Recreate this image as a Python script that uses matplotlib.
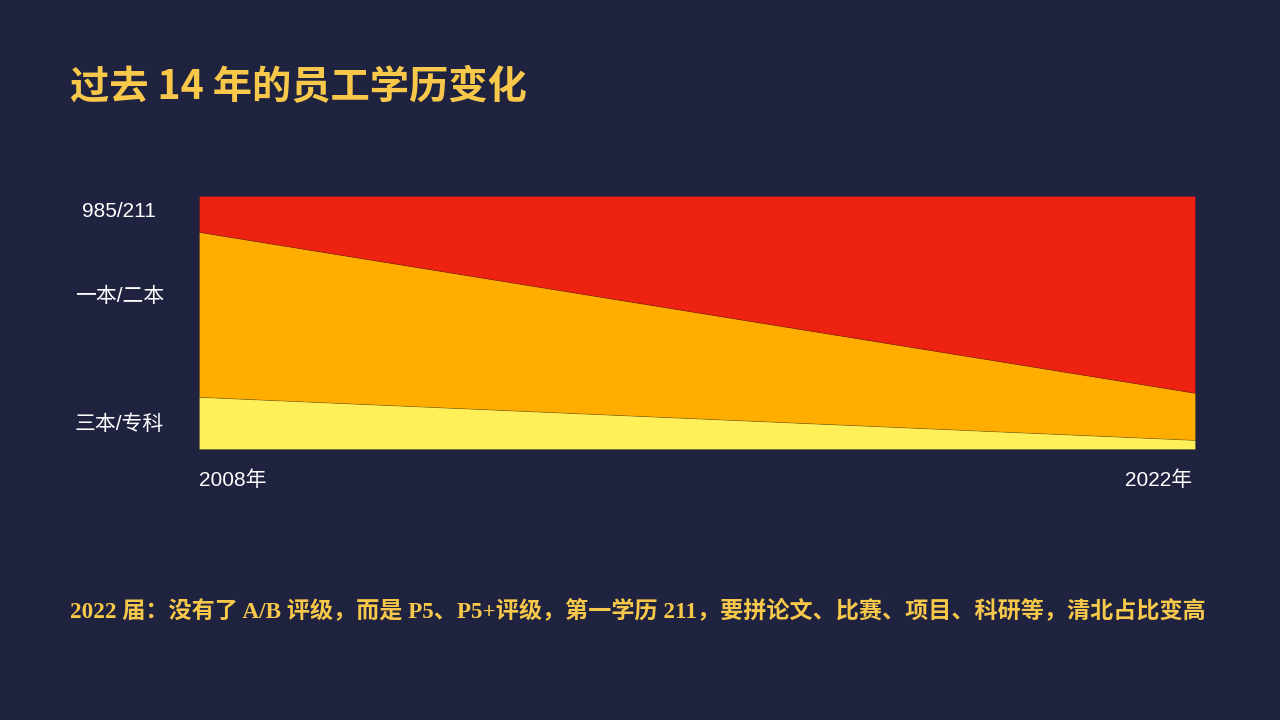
import matplotlib
matplotlib.use('Agg')
import matplotlib.pyplot as plt

plt.rcParams['font.family'] = ['Noto Sans CJK SC', 'DejaVu Sans']

# data (share of staff, %)
years = [2008, 2022]
year_labels = ['2008年', '2022年']
series_names = ['三本/专科', '一本/二本', '985/211']
share_low = [20.6, 3.6]      # 三本/专科
share_mid = [65.2, 18.6]     # 一本/二本
share_top = [14.2, 77.8]     # 985/211

title = '过去 14 年的员工学历变化'
note = '2022 届：没有了 A/B 评级，而是 P5、P5+评级，第一学历 211，要拼论文、比赛、项目、科研等，清北占比变高'

BG = '#1f2340'
GOLD = '#f8c84a'
colors = ['#fff05a', '#ffae00', '#ee2210']
label_font = ['Liberation Sans', 'Noto Sans CJK SC']

fig = plt.figure(figsize=(12.8, 7.2), dpi=100)
fig.patch.set_facecolor(BG)

ax = fig.add_axes([199 / 1280, 1 - 449 / 720, 996 / 1280, 253 / 720])
ax.set_facecolor(BG)
ax.stackplot(years, share_low, share_mid, share_top, colors=colors,
             edgecolor='#00000030', linewidth=0.6)
ax.set_xlim(years[0], years[-1])
ax.set_ylim(0, 100)
ax.axis('off')

# series labels on the left
label_y = [0.099, 0.605, 0.937]
for name, yy in zip(series_names, label_y):
    ax.text(-0.08, yy, name, transform=ax.transAxes, ha='center', va='center',
            color='white', fontsize=15, family=label_font)

# year labels
ax.text(0.0, -0.125, year_labels[0], transform=ax.transAxes, ha='left', va='center',
        color='white', fontsize=15, family=label_font)
ax.text(0.997, -0.125, year_labels[1], transform=ax.transAxes, ha='right', va='center',
        color='white', fontsize=15, family=label_font)

fig.text(70 / 1280, 1 - 88 / 720, title, color=GOLD, fontsize=28.3,
         fontweight='bold', ha='left', va='center')

fig.text(70 / 1280, 1 - 611 / 720, note, color=GOLD, fontsize=16.65,
         fontweight='bold', ha='left', va='center',
         family=['Liberation Serif', 'Noto Sans CJK SC'])

fig.savefig('out.png', dpi=100, facecolor=BG)
